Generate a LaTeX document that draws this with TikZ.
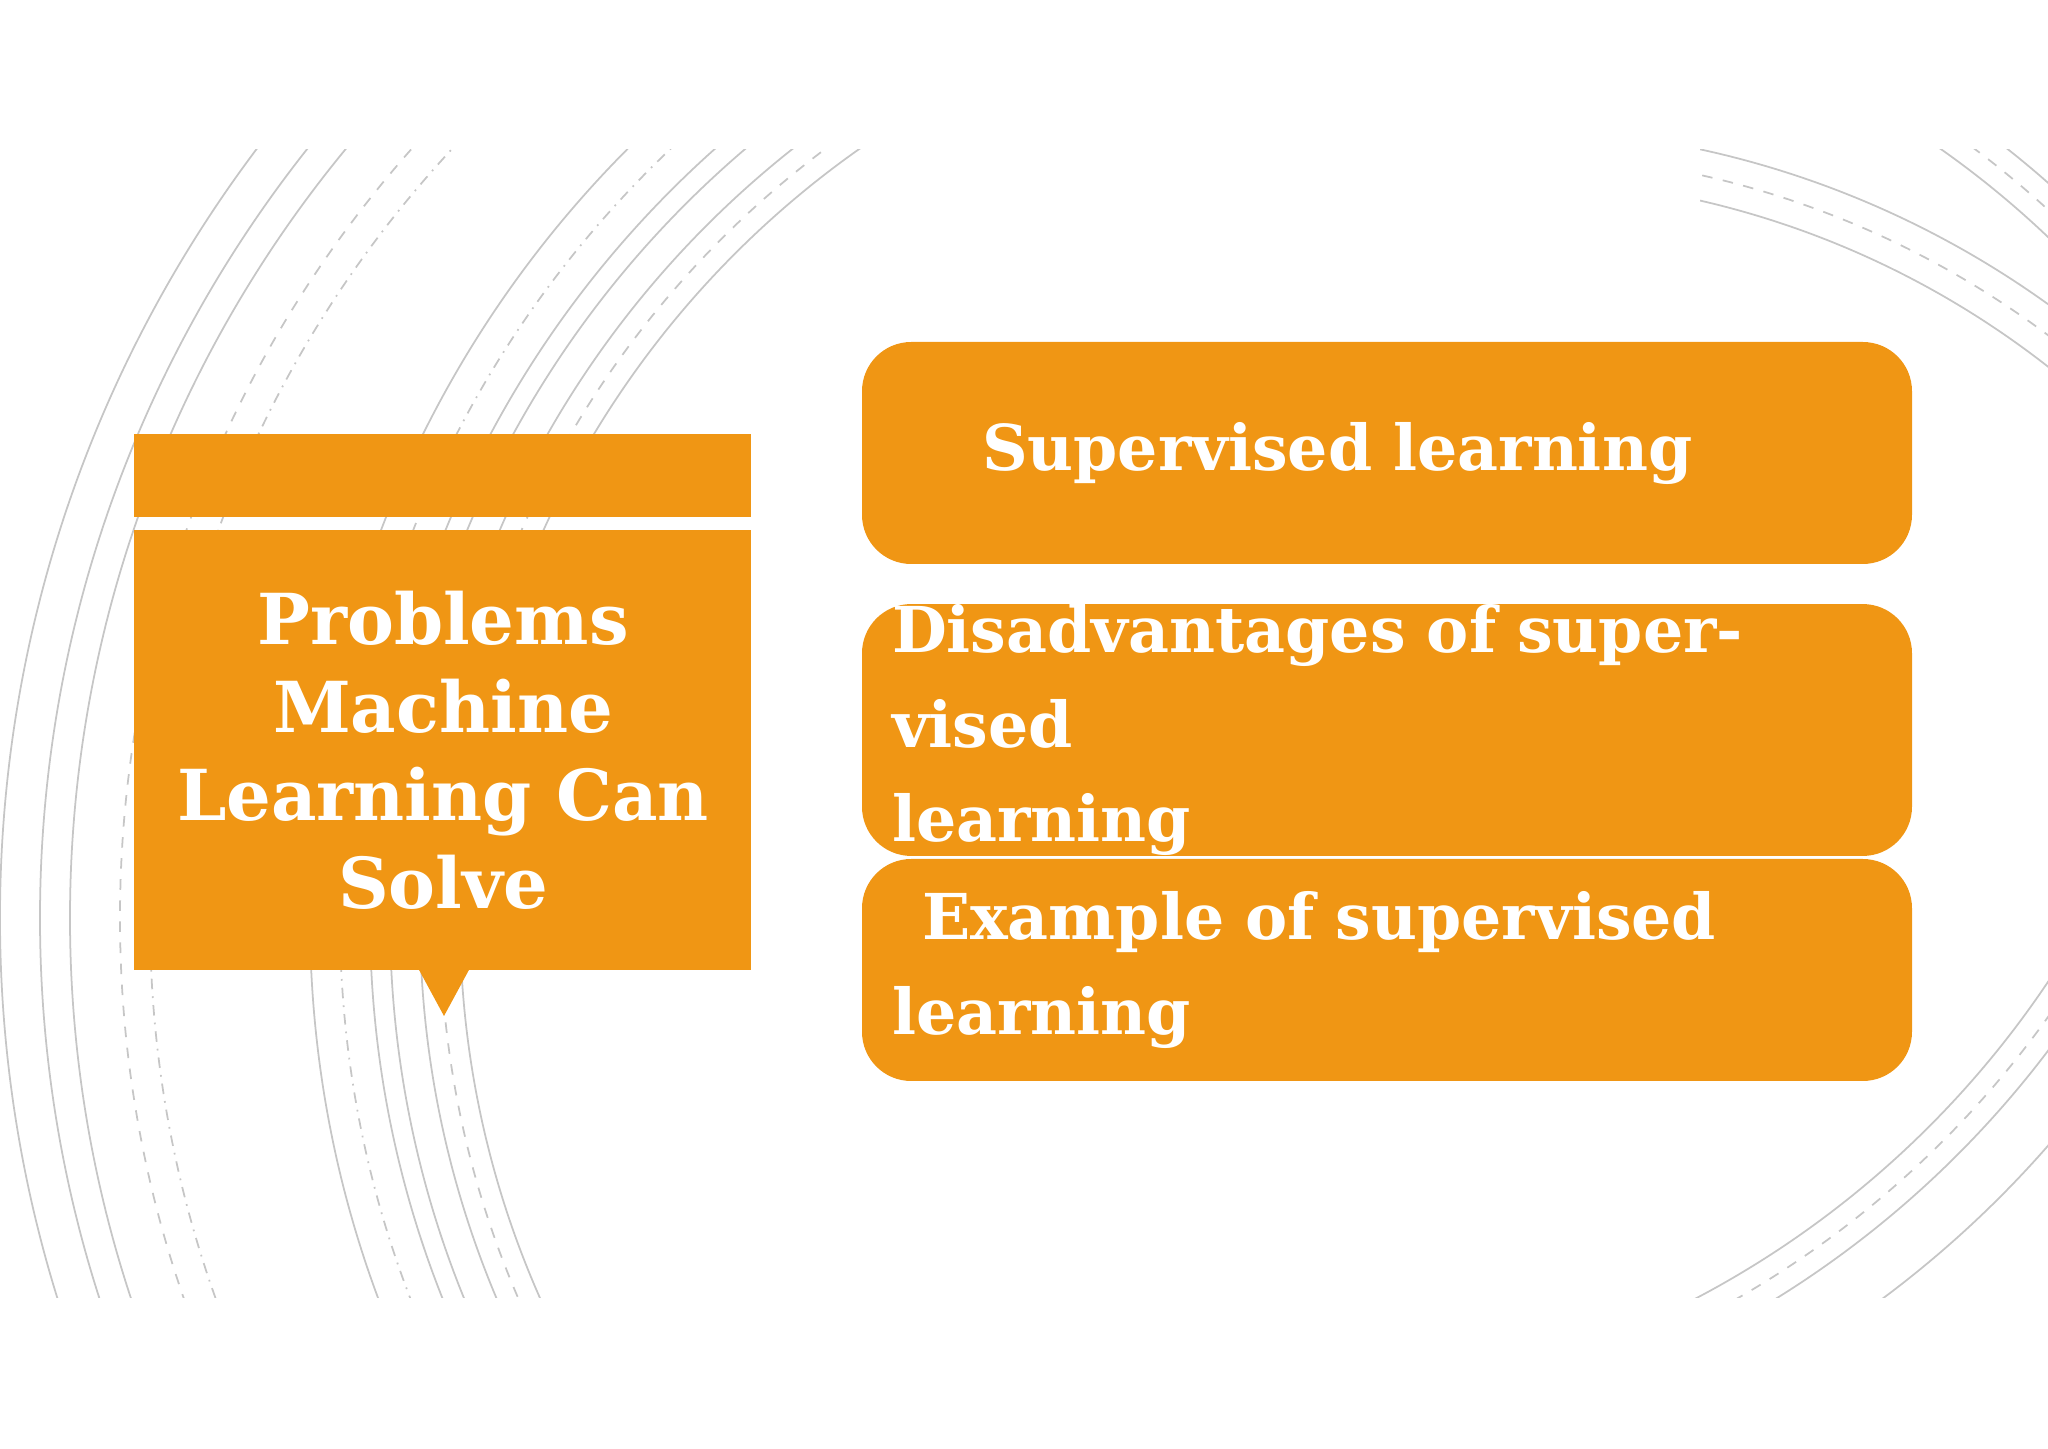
\documentclass[tikz,border=0pt]{standalone}
\usepackage{fontspec}
\setmainfont{DejaVu Serif}
\definecolor{orng}{HTML}{F09614}
\begin{document}
\begin{tikzpicture}[x=1cm,y=1cm]
    \tikzstyle{arc}=[gray!45, line width=0.5pt]
    \tikzstyle{item}=[fill=orng, rounded corners=14pt, minimum width=10.5cm, minimum height=2.22cm, text width=9.9cm, align=left, inner sep=0pt, text=white, font=\bfseries\fontsize{18}{27}\selectfont]
    \useasboundingbox (0,0) rectangle (20.48,14.48);

    % background arcs
    \begin{scope}
        \clip (0,1.51) rectangle (20.48,12.98);
        \foreach \r in {12.8,12.4,12.1}
            \draw [arc] (12.8,5.3) circle (\r);
        \draw [arc, dashed] (12.8,5.3) circle (11.6);
        \draw [arc, dash dot] (12.8,5.3) circle (11.3);
        \foreach \r in {9.4,9.8,10.1,10.3,10.9}
            \draw [arc] (14.0,5.3) circle (\r);
        \draw [arc, dashed] (14.0,5.3) circle (9.6);
        \draw [arc, dash dot] (14.0,5.3) circle (10.6);
    \end{scope}
    \begin{scope}
        \clip (15,1.51) rectangle (20.48,12.98);
        \foreach \r in {9.6,10.0,10.6}
            \draw [arc] (12.5,10) circle (\r);
        \draw [arc, dashed] (12.5,10) circle (9.8);
    \end{scope}
    \begin{scope}
        \clip (17,1.51) rectangle (20.48,12.98);
        \foreach \r in {8.9,9.4}
            \draw [arc] (15,3.8) circle (\r);
        \draw [arc, dashed] (15,3.8) circle (9.15);
    \end{scope}

    % title box
    \fill [orng] (1.34,9.31) rectangle (7.51,10.14);
    \fill [orng] (1.34,4.78) rectangle (7.51,9.18);
    \node (title) at (4.43,6.98) [text=white, align=center,
        font=\bfseries\fontsize{20}{25}\selectfont] {Problems\\Machine\\Learning Can\\Solve};
    \fill [orng] (4.18,4.80) -- (4.44,4.32) -- (4.70,4.80) -- cycle;

    % items
    \node (sup) at (13.87,9.95) [item] {\hspace*{0.9cm}Supervised learning};
    \node (dis) at (13.87,7.18) [item] {Disadvantages of supervised\\learning};
    \node (ex) at (13.87,4.78) [item] {\hspace*{0.3cm}Example of supervised\\learning};
\end{tikzpicture}
\end{document}
